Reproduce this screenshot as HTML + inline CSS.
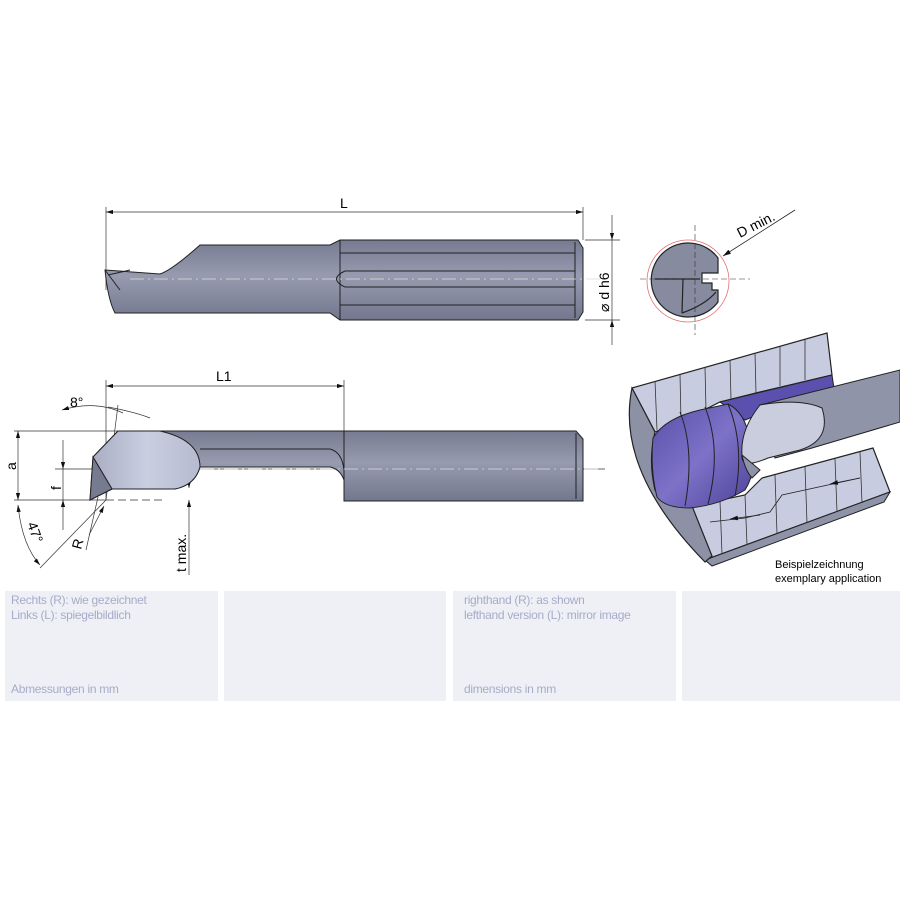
<!DOCTYPE html>
<html><head><meta charset="utf-8"><style>
body{margin:0;background:#fff;width:900px;height:900px;overflow:hidden;font-family:"Liberation Sans",sans-serif}
.p{position:absolute;background:#eef0f5;top:591px;height:110px}
.t{position:absolute;color:#a6acc8;font-size:12px;line-height:15px;letter-spacing:-0.3px}
</style></head><body>
<svg width="900" height="900" style="position:absolute;left:0;top:0" font-family="Liberation Sans, sans-serif">
<defs>
<linearGradient id="g" x1="0" y1="0" x2="0" y2="1"><stop offset="0" stop-color="#767b91"/><stop offset=".45" stop-color="#969bb0"/><stop offset="1" stop-color="#72778d"/></linearGradient>
<linearGradient id="pu" x1="0" y1="0" x2="1" y2="1"><stop offset="0" stop-color="#5a4fa8"/><stop offset=".5" stop-color="#7d72c8"/><stop offset="1" stop-color="#4b4195"/></linearGradient>
<linearGradient id="hd" x1="0" y1="0" x2="1" y2="0"><stop offset="0" stop-color="#a9aec4"/><stop offset=".5" stop-color="#c9cee0"/><stop offset="1" stop-color="#b6bbd0"/></linearGradient>
<marker id="a" markerWidth="10" markerHeight="6" refX="10" refY="3" orient="auto-start-reverse"><path d="M0,0L10,3L0,6z" fill="#111"/></marker>
</defs>
<g stroke="#333" stroke-width="0.7" fill="none">
<line x1="106" y1="207" x2="106" y2="290"/>
<line x1="583" y1="207" x2="583" y2="240"/>
<line x1="106" y1="212" x2="583" y2="212" marker-start="url(#a)" marker-end="url(#a)"/>
<line x1="585" y1="240" x2="620" y2="240"/><line x1="585" y1="320" x2="620" y2="320"/>
<line x1="612" y1="215" x2="612" y2="240" marker-end="url(#a)"/>
<line x1="612" y1="345" x2="612" y2="320" marker-end="url(#a)"/>
<line x1="612" y1="240" x2="612" y2="320"/>
</g>
<path d="M105,270 L160,274 Q172,270 200,245 L330,245 L340,240 L578,240 L583,248 L583,312 L578,320 L340,320 L330,313 L115,313 Q108,300 105,270z" fill="url(#g)" stroke="#222" stroke-width="1"/>
<g stroke="#222" stroke-width="1" fill="none">
<line x1="340" y1="240" x2="340" y2="320"/>
<line x1="340" y1="253" x2="575" y2="253"/><line x1="340" y1="305" x2="575" y2="305"/>
<path d="M345,271 L575,271 M345,287 L575,287 M345,271 Q328,279 345,287"/>
<line x1="575" y1="242" x2="575" y2="318"/>
<path d="M105,270 L120,290 M108,275 L130,270"/>
</g>
<line x1="130" y1="279" x2="600" y2="279" stroke="#ddd" stroke-width="0.8" stroke-dasharray="14,4,2,4"/>
<text x="340" y="208" font-size="14">L</text>
<text transform="translate(609,312) rotate(-90)" font-size="14">⌀ d h6</text>
<circle cx="688" cy="281" r="41" fill="none" stroke="#e07070" stroke-width="0.8"/>
<path d="M718,258 A37,37 0 1,0 718,302 L718,290 L712,290 L712,283 L702,283 L702,273 L718,273z" fill="#868b9f" stroke="#222" stroke-width="1.2"/>
<path d="M655,279 L700,279 M683,279 L682,313 M682,313 Q705,305 716,292" stroke="#222" stroke-width="1.2" fill="none"/>
<g stroke="#333" stroke-width="0.6" stroke-dasharray="6,3" fill="none"><line x1="640" y1="279" x2="750" y2="279"/><line x1="695" y1="225" x2="695" y2="335"/></g>
<line x1="795" y1="210" x2="723" y2="256" stroke="#222" stroke-width="0.8" marker-end="url(#a)"/>
<text transform="translate(740,238) rotate(-27)" font-size="14">D min.</text>
<g stroke="#333" stroke-width="0.7" fill="none">
<line x1="106" y1="380" x2="106" y2="500"/><line x1="344" y1="380" x2="344" y2="431"/>
<line x1="106" y1="386" x2="344" y2="386" marker-start="url(#a)" marker-end="url(#a)"/>
<line x1="14" y1="431" x2="118" y2="431"/><line x1="14" y1="500" x2="106" y2="500"/>
<line x1="18" y1="431" x2="18" y2="500" marker-start="url(#a)" marker-end="url(#a)"/>
<line x1="55" y1="469" x2="605" y2="469"/>
<line x1="63" y1="440" x2="63" y2="469" marker-end="url(#a)"/>
<line x1="63" y1="530" x2="63" y2="500" marker-end="url(#a)"/>
<line x1="63" y1="469" x2="63" y2="500"/>
<line x1="106" y1="500" x2="165" y2="500" stroke-dasharray="8,4"/>
<line x1="189" y1="475" x2="189" y2="488" marker-end="url(#a)"/>
<line x1="189" y1="575" x2="189" y2="500" marker-end="url(#a)"/>
<line x1="106" y1="500" x2="118" y2="405"/>
<path d="M62,410 Q95,400 123,413" marker-start="url(#a)"/><path d="M108,407 Q135,412 150,418"/>
<path d="M18,505 Q22,545 40,565" marker-start="url(#a)" marker-end="url(#a)"/>
<line x1="106" y1="500" x2="40" y2="568"/>
<line x1="89" y1="535" x2="104" y2="506" marker-end="url(#a)"/>
<line x1="86" y1="550" x2="98" y2="497"/>
</g>
<path d="M118,431 L576,431 L583,439 L583,501 L344,501 L344,480 Q340,469 330,467 L200,467 Q195,485 175,489 L112,489 Q100,495 90,500 L93,457z" fill="url(#g)" stroke="#222" stroke-width="1"/>
<path d="M118,431 L160,431 Q200,440 200,467 Q195,485 175,489 L112,489 L93,457z" fill="url(#hd)" stroke="#222" stroke-width="1"/>
<path d="M93,457 L112,489 L90,500z" fill="#767b90" stroke="#222"/>
<path d="M200,449 L330,449 Q342,452 344,470 M344,431 L344,501 M576,433 L576,499" stroke="#222" fill="none"/>
<line x1="200" y1="469" x2="600" y2="469" stroke="#ddd" stroke-width="0.8" stroke-dasharray="14,4,2,4"/>
<text x="216" y="381" font-size="14">L1</text>
<text x="70" y="407" font-size="14">8°</text>
<text transform="translate(16,470) rotate(-90)" font-size="14">a</text>
<text transform="translate(61,490) rotate(-90)" font-size="14">f</text>
<text transform="translate(27,524) rotate(70)" font-size="14">47°</text>
<text transform="translate(81,550) rotate(-75)" font-size="14">R</text>
<text transform="translate(186,572) rotate(-90)" font-size="14">t max.</text>
<path d="M692,506 L745,495 L762,478 L873,448 L890,492 L705,560z" fill="#c8cce0" stroke="#222" stroke-width="1.2"/>
<path d="M705,560 L890,492 L884,502 L712,566z" fill="#8e93a8" stroke="#222"/>
<path d="M632,388 L827,333 L832,375 L760,392 L720,402 L680,422 L655,432z" fill="#c8cce0" stroke="#222" stroke-width="1.2"/>
<g stroke="#333" stroke-width="0.8"><line x1="655" y1="381" x2="657" y2="430"/><line x1="680" y1="374" x2="681" y2="421"/><line x1="705" y1="367" x2="706" y2="410"/><line x1="730" y1="360" x2="731" y2="400"/><line x1="755" y1="353" x2="756" y2="393"/><line x1="780" y1="346" x2="780" y2="386"/><line x1="805" y1="339" x2="805" y2="380"/>
<line x1="720" y1="501" x2="722" y2="554"/><line x1="745" y1="495" x2="747" y2="545"/><line x1="775" y1="475" x2="777" y2="534"/><line x1="805" y1="467" x2="807" y2="523"/><line x1="835" y1="459" x2="837" y2="512"/><line x1="860" y1="452" x2="862" y2="503"/></g>
<path d="M632,388 Q615,470 705,562 L712,556 L692,506 Q665,505 655,490 Q648,460 655,432z" fill="#8c91a6" stroke="#222" stroke-width="1.2"/>
<path d="M720,402 L832,375 L835,395 L770,410 L745,420z" fill="#5b50ad" stroke="#222"/>
<path d="M653,438 Q665,418 700,410 L728,404 Q745,412 750,440 Q758,470 745,490 Q720,505 690,508 Q665,508 657,497 Q650,470 653,438z" fill="url(#pu)" stroke="#222" stroke-width="1"/>
<path d="M680,412 Q695,450 685,506 M705,407 Q722,450 708,504 M728,404 Q745,445 735,496" stroke="#222" fill="none"/>
<path d="M760,405 L900,370 L900,422 L812,448 L775,458z" fill="#8f94a8" stroke="#222"/>
<path d="M760,405 Q800,398 822,408 Q832,440 800,450 L768,458 Q740,470 742,455 Q740,430 760,405z" fill="#c9cddd" stroke="#222"/>
<path d="M742,455 L760,470 L752,478 Q745,470 742,455z" fill="#8e93a8" stroke="#222"/>
<g stroke="#222" stroke-width="0.8" fill="none"><path d="M710,522 L745,518 L770,512 L782,495 L860,478"/><path d="M860,478 L830,484" marker-end="url(#a)"/><path d="M760,515 L730,519" marker-end="url(#a)"/></g>
<text x="775" y="568" font-size="11">Beispielzeichnung</text>
<text x="775" y="582" font-size="11">exemplary application</text>
</svg>
<div class="p" style="left:5px;width:213px"></div>
<div class="p" style="left:224px;width:222px"></div>
<div class="p" style="left:453px;width:223px"></div>
<div class="p" style="left:682px;width:218px"></div>
<div class="t" style="left:11px;top:593px">Rechts (R): wie gezeichnet<br>Links (L): spiegelbildlich</div>
<div class="t" style="left:11px;top:682px">Abmessungen in mm</div>
<div class="t" style="left:464px;top:593px">righthand (R): as shown<br>lefthand version (L): mirror image</div>
<div class="t" style="left:464px;top:682px">dimensions in mm</div>
</body></html>
